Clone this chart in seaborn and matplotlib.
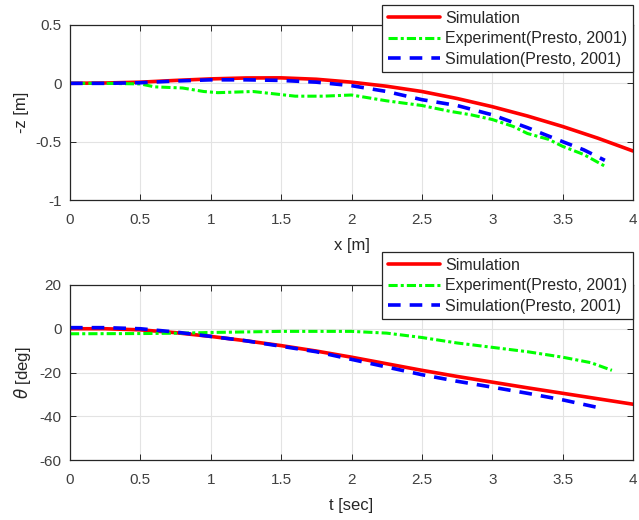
import matplotlib
matplotlib.use("Agg")
import matplotlib.pyplot as plt
import seaborn as sns
import numpy as np

# ---- data ----
top_sim_x = [0, 0.25, 0.5, 0.75, 1.0, 1.25, 1.5, 1.75, 2.0, 2.25, 2.5, 2.75, 3.0, 3.25, 3.5, 3.75, 4.0]
top_sim_z = [0, 0.003, 0.01, 0.025, 0.038, 0.046, 0.047, 0.035, 0.01, -0.025, -0.07, -0.13, -0.2, -0.28, -0.37, -0.47, -0.58]

top_exp_x = [0, 0.25, 0.5, 0.6, 0.8, 0.95, 1.05, 1.3, 1.45, 1.6, 1.8, 2.0, 2.1, 2.25, 2.5, 2.7, 2.85, 3.0, 3.15, 3.25, 3.4, 3.5, 3.65, 3.8]
top_exp_z = [0, 0, -0.005, -0.03, -0.04, -0.07, -0.08, -0.07, -0.09, -0.11, -0.11, -0.1, -0.12, -0.15, -0.19, -0.24, -0.27, -0.31, -0.37, -0.43, -0.48, -0.54, -0.61, -0.71]

top_ref_x = [0, 0.25, 0.5, 0.75, 1.0, 1.25, 1.5, 1.75, 2.0, 2.25, 2.5, 2.75, 3.0, 3.25, 3.5, 3.65, 3.8]
top_ref_z = [0, 0, 0.005, 0.02, 0.03, 0.03, 0.025, 0.01, -0.02, -0.07, -0.14, -0.19, -0.27, -0.38, -0.5, -0.57, -0.66]

bot_sim_t = [0, 0.25, 0.5, 0.75, 1.0, 1.25, 1.5, 1.75, 2.0, 2.25, 2.5, 2.75, 3.0, 3.25, 3.5, 3.75, 4.0]
bot_sim_th = [0, 0, -0.5, -1.8, -3.5, -5.5, -7.7, -10.2, -13, -16, -19, -21.8, -24.4, -27, -29.5, -32, -34.5]

bot_exp_t = [0, 0.5, 0.8, 1.0, 1.5, 2.0, 2.25, 2.5, 2.75, 3.0, 3.25, 3.5, 3.7, 3.85]
bot_exp_th = [-2.3, -2.2, -2, -1.7, -1.2, -1.2, -2, -4, -6.5, -8.5, -10.5, -13, -15.5, -19]

bot_ref_t = [0, 0.25, 0.5, 0.75, 1.0, 1.25, 1.5, 1.75, 2.0, 2.25, 2.5, 2.75, 3.0, 3.25, 3.5, 3.75]
bot_ref_th = [0.5, 0.5, 0, -1.5, -3.5, -5.5, -8, -10.5, -14, -17.5, -21, -24, -26.7, -29.5, -32.5, -36]

labels = ["Simulation", "Experiment(Presto, 2001)", "Simulation(Presto, 2001)"]
x_ticks = [0, 0.5, 1, 1.5, 2, 2.5, 3, 3.5, 4]
x_ticklabels = ["0", "0.5", "1", "1.5", "2", "2.5", "3", "3.5", "4"]
top_yticks = [-1, -0.5, 0, 0.5]
top_yticklabels = ["-1", "-0.5", "0", "0.5"]
bot_yticks = [-60, -40, -20, 0, 20]
bot_yticklabels = ["-60", "-40", "-20", "0", "20"]

sns.set_theme(style="white")
plt.rcParams['font.family'] = ['Liberation Sans', 'DejaVu Sans']

W, H = 639, 520
fig = plt.figure(figsize=(W / 100, H / 100), dpi=100)

def ax_rect(l, t, r, b):
    return [l / W, 1 - b / H, (r - l) / W, (b - t) / H]

ax1 = fig.add_axes(ax_rect(70, 25, 633, 200))
ax2 = fig.add_axes(ax_rect(70, 285, 633, 460))

red = "#ff0000"
green = "#00ff00"
blue = "#0000ff"
tick_color = "#404040"

def style(ax, yticks, yticklabels, ylim, xlabel, ylabel):
    ax.set_xlim(0, 4)
    ax.set_ylim(*ylim)
    ax.set_xticks(x_ticks)
    ax.set_xticklabels(x_ticklabels)
    ax.set_yticks(yticks)
    ax.set_yticklabels(yticklabels)
    ax.grid(True, color="#e3e3e3", linewidth=0.8)
    ax.set_axisbelow(True)
    for s in ax.spines.values():
        s.set_visible(True)
        s.set_color("#262626")
        s.set_linewidth(0.9)
    ax.tick_params(direction="in", length=4, width=0.7, color="#262626",
                   top=True, right=True, bottom=True, left=True,
                   labelsize=11, labelcolor=tick_color)
    ax.tick_params(axis="x", pad=9)
    ax.tick_params(axis="y", pad=6)
    ax.set_xlabel(xlabel, fontsize=12, color="#262626", labelpad=8)
    ax.set_ylabel(ylabel, fontsize=12, color="#262626", labelpad=5)

sns.lineplot(x=top_sim_x, y=top_sim_z, ax=ax1, color=red, linewidth=2.6, label=labels[0])
sns.lineplot(x=top_exp_x, y=top_exp_z, ax=ax1, color=green, linewidth=2.2, linestyle=(0, (3, 1, 1, 1)), label=labels[1])
sns.lineplot(x=top_ref_x, y=top_ref_z, ax=ax1, color=blue, linewidth=2.6, linestyle=(0, (3.5, 2.5)), label=labels[2])

sns.lineplot(x=bot_sim_t, y=bot_sim_th, ax=ax2, color=red, linewidth=2.6, label=labels[0])
sns.lineplot(x=bot_exp_t, y=bot_exp_th, ax=ax2, color=green, linewidth=2.2, linestyle=(0, (3, 1, 1, 1)), label=labels[1])
sns.lineplot(x=bot_ref_t, y=bot_ref_th, ax=ax2, color=blue, linewidth=2.6, linestyle=(0, (3.5, 2.5)), label=labels[2])

style(ax1, top_yticks, top_yticklabels, (-1, 0.5), "x [m]", "-z [m]")
style(ax2, bot_yticks, bot_yticklabels, (-60, 20), "t [sec]", r"$\theta$ [deg]")

for ax, top_px in ((ax1, 5), (ax2, 252)):
    leg = ax.legend(loc="upper right", bbox_to_anchor=(633 / W, 1 - top_px / H),
                    bbox_transform=fig.transFigure, fontsize=11.5, frameon=True,
                    fancybox=False, framealpha=1, edgecolor="#262626",
                    handlelength=3.3, handletextpad=0.3, borderpad=0.35,
                    labelspacing=0.35, borderaxespad=0)
    leg.get_frame().set_linewidth(0.9)
    for t in leg.get_texts():
        t.set_color("#262626")

fig.savefig("out.png", dpi=100)
